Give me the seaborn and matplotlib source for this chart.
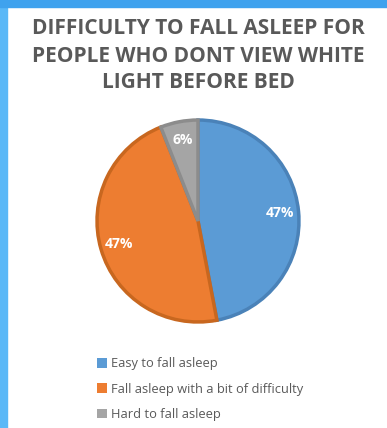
import matplotlib
matplotlib.use("Agg")
import matplotlib.pyplot as plt
import seaborn as sns
from matplotlib.patches import Rectangle

categories = ["Easy to fall asleep", "Fall asleep with a bit of difficulty", "Hard to fall asleep"]
values = [47, 47, 6]
labels = ["47%", "47%", "6%"]
title_lines = ["DIFFICULTY TO FALL ASLEEP FOR", "PEOPLE WHO DONT VIEW WHITE", "LIGHT BEFORE BED"]

sns.set_style("white")
plt.rcParams["font.family"] = ["Open Sans", "DejaVu Sans"]

fills = ["#5B9BD5", "#ED7D31", "#A5A5A5"]
edges = ["#4A82B8", "#C8671F", "#8C8C8C"]

W, H = 387, 428
fig = plt.figure(figsize=(W / 100, H / 100), dpi=100)
fig.patch.set_facecolor("white")

# slide border
fig.add_artist(Rectangle((0, 0), 7 / W, 1, transform=fig.transFigure, color="#5ab8f7", zorder=0))
fig.add_artist(Rectangle((0, 1 - 7 / H), 1, 7 / H, transform=fig.transFigure, color="#3fa2ee", zorder=0))

# pie axes
r = 103
cx, cy = 198, 221
ax = fig.add_axes([(cx - r) / W, 1 - (cy + r) / H, 2 * r / W, 2 * r / H])
wedges, texts = ax.pie(values, colors=fills, startangle=90, counterclock=False,
                       labels=labels, labeldistance=0.82,
                       wedgeprops=dict(linewidth=2.5),
                       textprops=dict(color="white", fontsize=10, fontweight="bold"))
for w, e in zip(wedges, edges):
    w.set_edgecolor(e)
for t in texts:
    t.set_horizontalalignment("center")
    t.set_verticalalignment("center")
ax.set_aspect("equal")
ax.set_xlim(-1.02, 1.02)
ax.set_ylim(-1.02, 1.02)

# title
for i, line in enumerate(title_lines):
    fig.text(198 / W, 1 - (29 + 27 * i) / H, line, ha="center", va="center",
             fontsize=15, fontweight="bold", color="#595959")

# legend
handles = [Rectangle((0, 0), 1, 1, facecolor=c, edgecolor="none") for c in fills]
fig.legend(handles, categories, loc="upper left", bbox_to_anchor=(91 / W, 1 - 351 / H),
           frameon=False, fontsize=9.3, labelcolor="#595959", handlelength=0.75, handleheight=0.75,
           handletextpad=0.3, labelspacing=0.95, borderpad=0)

fig.savefig("out.png", dpi=100, facecolor="white")
